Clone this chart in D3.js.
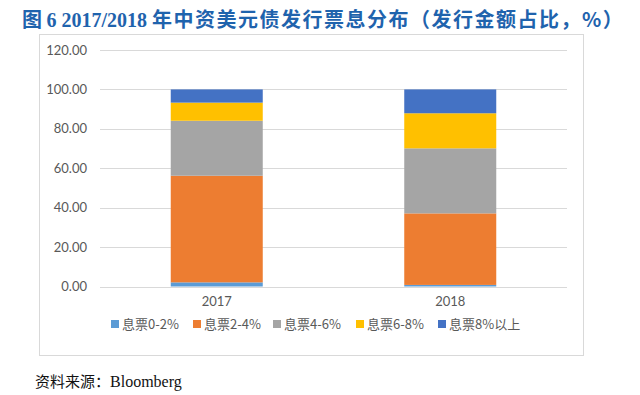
<!DOCTYPE html>
<html>
<head>
<meta charset="utf-8">
<script src="https://cdn.jsdelivr.net/npm/d3@7"></script>
<style>
  body { margin: 0; background: #fff; }
  svg { display: block; }
</style>
</head>
<body>
<div id="chart"></div>
<script>
// data
var years = ["2017", "2018"];
var seriesNames = ["息票0-2%", "息票2-4%", "息票4-6%", "息票6-8%", "息票8%以上"];
var coupon0to2 = [2.1, 0.8];
var coupon2to4 = [54.1, 36.3];
var coupon4to6 = [27.9, 33.0];
var coupon6to8 = [9.2, 17.8];
var coupon8up = [6.7, 12.1];
var yTicks = [0, 20, 40, 60, 80, 100, 120];
var colors = ["#5b9bd5", "#ed7d31", "#a5a5a5", "#ffc000", "#4472c4"];

var rows = years.map(function(y, i) {
  return {
    year: y,
    s0: coupon0to2[i], s1: coupon2to4[i], s2: coupon4to6[i],
    s3: coupon6to8[i], s4: coupon8up[i]
  };
});
var keys = ["s0", "s1", "s2", "s3", "s4"];

var width = 640, height = 395;
var svg = d3.select("#chart").append("svg")
  .attr("width", width)
  .attr("height", height);

// title
var title = svg.append("text")
  .attr("x", 22)
  .attr("y", 27)
  .attr("fill", "#1f63ad")
  .attr("font-weight", "bold")
  .attr("font-size", 20);
title.append("tspan")
  .attr("font-family", "Noto Sans CJK SC")
  .text("图 ");
title.append("tspan")
  .attr("font-family", "Liberation Serif")
  .text("6 2017/2018 ");
title.append("tspan")
  .attr("font-family", "Noto Sans CJK SC")
  .attr("letter-spacing", 1.5)
  .text("年中资美元债发行票息分布（发行金额占比，%）");

// chart frame
svg.append("rect")
  .attr("x", 39.5)
  .attr("y", 34.5)
  .attr("width", 544)
  .attr("height", 321)
  .attr("fill", "#fff")
  .attr("stroke", "#d9d9d9");

var plot = { left: 100, right: 567, top: 50, bottom: 286.5 };

var x = d3.scaleBand()
  .domain(years)
  .range([plot.left, plot.right])
  .paddingInner(0.606)
  .paddingOuter(0.303);

var y = d3.scaleLinear()
  .domain([0, 120])
  .range([plot.bottom, plot.top]);

// gridlines
svg.append("g")
  .selectAll("line")
  .data(yTicks)
  .enter()
  .append("line")
  .attr("x1", plot.left)
  .attr("x2", plot.right)
  .attr("y1", function(d) { return Math.round(y(d)) + 0.5; })
  .attr("y2", function(d) { return Math.round(y(d)) + 0.5; })
  .attr("stroke", "#d9d9d9");

// y tick labels
svg.append("g")
  .selectAll("text")
  .data(yTicks)
  .enter()
  .append("text")
  .attr("x", 87)
  .attr("y", function(d) { return y(d) + 4.5; })
  .attr("text-anchor", "end")
  .attr("font-family", "Lato, 'Open Sans', sans-serif")
  .attr("font-size", 13)
  .attr("fill", "#595959")
  .text(function(d) { return d3.format(".2f")(d); });

// stacked bars
var stack = d3.stack().keys(keys);
var layers = stack(rows);

svg.append("g")
  .selectAll("g")
  .data(layers)
  .enter()
  .append("g")
  .attr("fill", function(d, i) { return colors[i]; })
  .selectAll("rect")
  .data(function(d) { return d; })
  .enter()
  .append("rect")
  .attr("x", function(d) { return x(d.data.year); })
  .attr("width", x.bandwidth())
  .attr("y", function(d) { return y(d[1]); })
  .attr("height", function(d) { return y(d[0]) - y(d[1]); });

// x labels
svg.append("g")
  .selectAll("text")
  .data(years)
  .enter()
  .append("text")
  .attr("x", function(d) { return x(d) + x.bandwidth() / 2; })
  .attr("y", 306)
  .attr("text-anchor", "middle")
  .attr("font-family", "Lato, 'Open Sans', sans-serif")
  .attr("font-size", 13)
  .attr("fill", "#595959")
  .text(function(d) { return d; });

// legend
var legendX = [111, 193, 273, 356, 438];
var legend = svg.append("g")
  .selectAll("g")
  .data(seriesNames)
  .enter()
  .append("g")
  .attr("transform", function(d, i) { return "translate(" + legendX[i] + ",324)"; });
legend.append("rect")
  .attr("x", 0)
  .attr("y", -4)
  .attr("width", 8)
  .attr("height", 8)
  .attr("fill", function(d, i) { return colors[i]; });
legend.append("text")
  .attr("x", 11)
  .attr("y", 5)
  .attr("font-family", "'Noto Sans CJK SC', sans-serif")
  .attr("font-size", 13)
  .attr("fill", "#595959")
  .text(function(d) { return d; });

// source note
var src = svg.append("text")
  .attr("x", 35)
  .attr("y", 387)
  .attr("font-size", 15)
  .attr("fill", "#111");
src.append("tspan")
  .attr("font-family", "Noto Sans CJK SC")
  .text("资料来源：");
src.append("tspan")
  .attr("font-family", "Liberation Serif")
  .attr("font-size", 16)
  .text("Bloomberg");
</script>
</body>
</html>
